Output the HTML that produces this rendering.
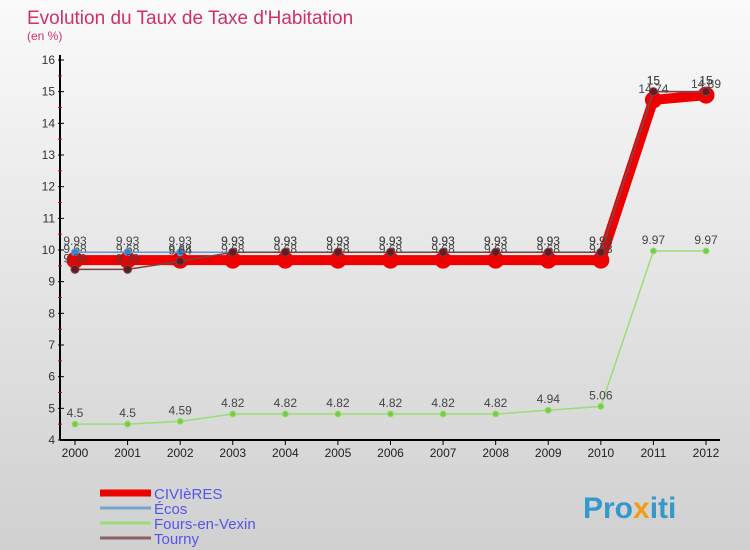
<!DOCTYPE html>
<html><head><meta charset="utf-8"><style>
body{margin:0;width:750px;height:550px;overflow:hidden;font-family:"Liberation Sans",sans-serif}
svg{display:block}
</style></head><body>
<svg id="c" width="750" height="550" xmlns="http://www.w3.org/2000/svg">
<defs><linearGradient id="bg" x1="0" y1="0" x2="0" y2="1"><stop offset="0" stop-color="#fafafa"/><stop offset="1" stop-color="#d0d0d0"/></linearGradient></defs>
<rect width="750" height="550" fill="url(#bg)"/>
<text x="27" y="24" font-size="19" fill="#d0306a">Evolution du Taux de Taxe d'Habitation</text>
<text x="27" y="40" font-size="12" fill="#d0306a">(en %)</text>
<g id="axes"></g><g id="series"></g><g id="legend"></g>
<text x="583" y="518" font-size="30" font-weight="bold" fill="#3399cc">Pro<tspan fill="#f39c12">x</tspan>iti</text>
</svg>
<script>
const years=[2000,2001,2002,2003,2004,2005,2006,2007,2008,2009,2010,2011,2012];
const yTicks=[4,5,6,7,8,9,10,11,12,13,14,15,16];
const civieres=[9.68,9.68,9.68,9.68,9.68,9.68,9.68,9.68,9.68,9.68,9.68,14.74,14.89];
const ecos=[9.93,9.93,9.93,9.93,9.93,9.93,9.93,9.93,9.93,9.93,9.93,15,15];
const fours=[4.5,4.5,4.59,4.82,4.82,4.82,4.82,4.82,4.82,4.94,5.06,9.97,9.97];
const tourny=[9.39,9.39,9.64,9.93,9.93,9.93,9.93,9.93,9.93,9.93,9.93,15,15];
const NS="http://www.w3.org/2000/svg";
const X=i=>75+i*(706-75)/(years.length-1);
const Y=v=>440-(v-4)*(380/12);
function mk(t,a,p){const e=document.createElementNS(NS,t);for(const k in a)e.setAttribute(k,a[k]);p.appendChild(e);return e;}
const ax=document.getElementById('axes');
let l=mk('line',{x1:60,y1:55,x2:60,y2:440,stroke:'#000','stroke-width':2},ax);

l=mk('line',{x1:60,y1:440,x2:720,y2:440,stroke:'#000','stroke-width':2},ax);

yTicks.forEach(v=>{const y=Y(v);
 mk('line',{x1:58,y1:y,x2:64,y2:y,stroke:'#000'},ax);
 if(v<16)mk('line',{x1:58,y1:y+Y(4.5)-Y(4)*1+0-0+ (Y(4)-Y(4.5))*0,x2:62,y2:y,stroke:'none'},ax);
 const t=mk('text',{x:55,y:y+4,'font-size':12,'text-anchor':'end',fill:'#333'},ax);t.textContent=v;
 
 if(v<16){mk('line',{x1:58,y1:Y(v+0.5),x2:62,y2:Y(v+0.5),stroke:'#e00'},ax);}
});
years.forEach((yr,i)=>{const x=X(i);mk('line',{x1:x,y1:440,x2:x,y2:445,stroke:'#000'},ax);
 const t=mk('text',{x:x,y:457,'font-size':12,'text-anchor':'middle',fill:'#222'},ax);t.textContent=yr;
 });
const sg=document.getElementById('series');
function draw(vals,color,w,r,dot,name){
 const g=mk('g',{},sg);
 mk('polyline',{points:vals.map((v,i)=>X(i)+','+Y(v)).join(' '),fill:'none',stroke:color,'stroke-width':w},g);
 vals.forEach((v,i)=>{const c=mk('circle',{cx:X(i),cy:Y(v),r:r,fill:dot,stroke:color},g);
  
  const t=mk('text',{x:X(i),y:Y(v)-7,'font-size':12,'text-anchor':'middle',fill:'#444'},g);t.textContent=v;});
}
draw(fours,'#99dd77',1.5,3,'#77cc44','series-fours-en-vexin');
draw(civieres,'#ee0000',10,8,'#ee0000','series-civieres');
draw(ecos,'#6699cc',1.5,3.5,'#3388cc','series-ecos');
draw(tourny,'#774444',1.5,4,'#661a22','series-tourny');
const lg=document.getElementById('legend');
[['CIVIèRES','#ee0000',7],['Écos','#77a6cc',3],['Fours-en-Vexin','#99dd77',3],['Tourny','#8a6060',3]].forEach((d,i)=>{
 const y=493+i*15;const g=mk('g',{},lg);
 mk('line',{x1:100,y1:y,x2:151,y2:y,stroke:d[1],'stroke-width':d[2]},g);
 const t=mk('text',{x:154,y:y+6,'font-size':15,fill:'#5555ee'},g);t.textContent=d[0];});
</script>
</body></html>
